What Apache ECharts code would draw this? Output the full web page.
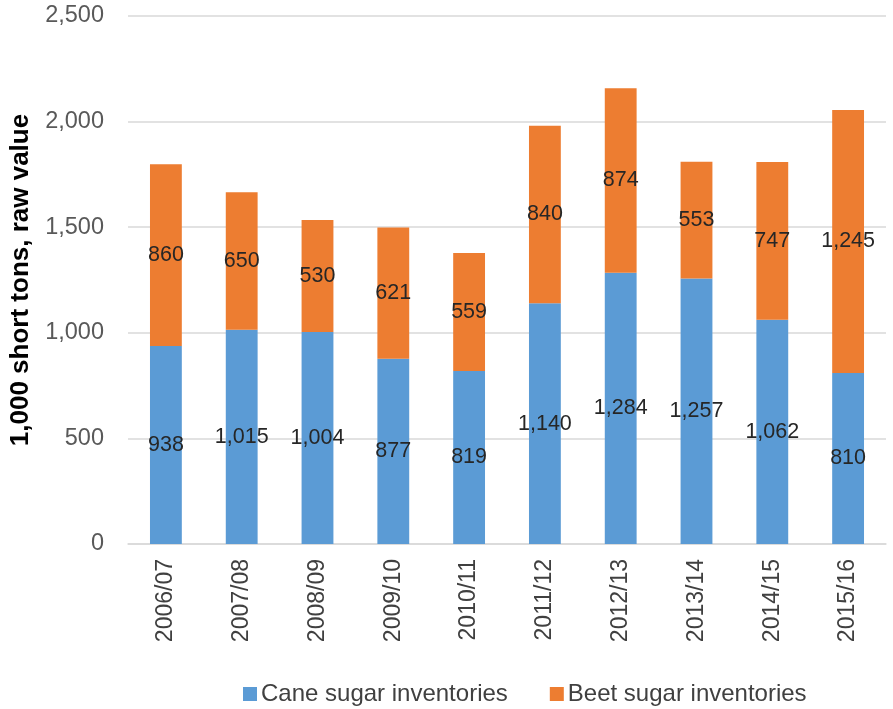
<!DOCTYPE html>
<html>
<head>
<meta charset="utf-8">
<script src="https://cdn.jsdelivr.net/npm/echarts@6/dist/echarts.min.js"></script>
<style>
  html, body { margin: 0; padding: 0; background: #fff; }
  #chart { width: 893px; height: 709px; }
</style>
</head>
<body>
<div id="chart"></div>
<script>
// Marketing years
const categories = ['2006/07', '2007/08', '2008/09', '2009/10', '2010/11',
                    '2011/12', '2012/13', '2013/14', '2014/15', '2015/16'];
// 1,000 short tons, raw value
const caneInventories = [938, 1015, 1004, 877, 819, 1140, 1284, 1257, 1062, 810];
const beetInventories = [860, 650, 530, 621, 559, 840, 874, 553, 747, 1245];

const fontFamily = '"Liberation Sans", Arial, sans-serif';
const fmt = p => p.value.toLocaleString('en-US');

const chart = echarts.init(document.getElementById('chart'));
chart.setOption({
  animation: false,
  textStyle: { fontFamily },
  grid: { left: 127, right: 7, top: 16, bottom: 165 },
  legend: {
    top: 677,
    left: 238,
    itemWidth: 14,
    itemHeight: 14,
    itemGap: 42,
    icon: 'rect',
    textStyle: { fontSize: 24, color: '#404040', fontFamily, padding: [0, 0, 0, -1] }
  },
  xAxis: {
    type: 'category',
    data: categories,
    axisLine: { lineStyle: { color: '#d9d9d9', width: 1.5 } },
    axisTick: { show: false },
    axisLabel: { rotate: 90, fontSize: 23, color: '#404040', margin: 15 }
  },
  yAxis: {
    type: 'value',
    min: 0,
    max: 2500,
    interval: 500,
    name: '1,000 short tons, raw value',
    nameLocation: 'middle',
    nameGap: 94,
    nameTextStyle: { fontSize: 26, fontWeight: 'bold', color: '#000' },
    axisLabel: {
      fontSize: 23.5,
      color: '#595959',
      margin: 24,
      formatter: v => v.toLocaleString('en-US')
    },
    splitLine: { lineStyle: { color: '#d9d9d9', width: 1.5 } }
  },
  series: [
    {
      name: 'Cane sugar inventories',
      type: 'bar',
      stack: 'total',
      data: caneInventories,
      barWidth: '42%',
      itemStyle: { color: '#5B9BD5' },
      label: { show: true, position: 'inside', fontSize: 21.5, color: '#262626', formatter: fmt }
    },
    {
      name: 'Beet sugar inventories',
      type: 'bar',
      stack: 'total',
      data: beetInventories,
      barWidth: '42%',
      itemStyle: { color: '#ED7D31' },
      label: { show: true, position: 'inside', fontSize: 21.5, color: '#262626', formatter: fmt }
    }
  ]
});
</script>
</body>
</html>
